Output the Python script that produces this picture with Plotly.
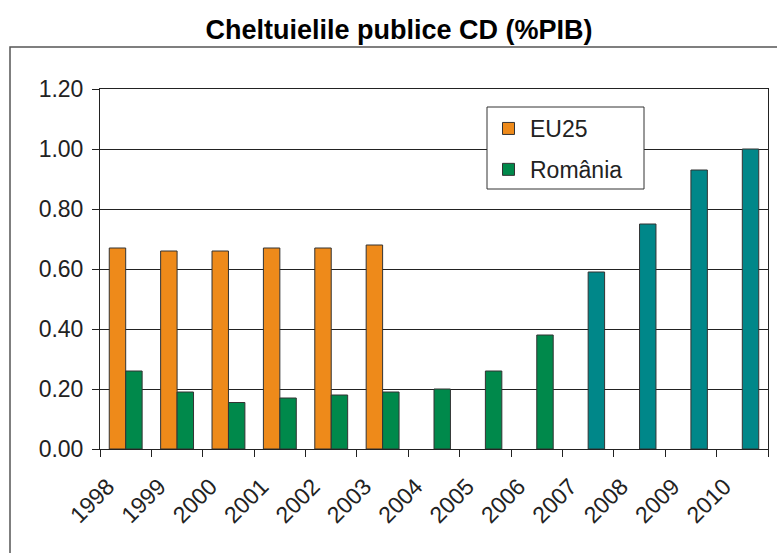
import plotly.graph_objects as go

years = ["1998", "1999", "2000", "2001", "2002", "2003", "2004",
         "2005", "2006", "2007", "2008", "2009", "2010"]
eu25 = [0.67, 0.66, 0.66, 0.67, 0.67, 0.68, None, None, None, None, None, None, None]
romania = [0.26, 0.19, 0.155, 0.17, 0.18, 0.19, 0.20, 0.26, 0.38, 0.59, 0.75, 0.93, 1.00]
romania_projected_from = "2007"

ORANGE = "#EE8A1A"
GREEN = "#00894B"
TEAL = "#008789"
FONT = "Liberation Sans, Arial, sans-serif"

ro_colors = [TEAL if int(y) >= int(romania_projected_from) else GREEN for y in years]

fig = go.Figure()
fig.add_trace(go.Bar(
    x=years, y=eu25, name="EU25", legendgroup="a",
    marker=dict(color=ORANGE, line=dict(color="#333333", width=1)),
))
fig.add_trace(go.Bar(
    x=years, y=romania, name="România", legendgroup="b",
    marker=dict(color=ro_colors, line=dict(color="#333333", width=1)),
))

W, H = 777, 553
L, R, T, B = 100, 9, 89, 104
pw, ph = W - L - R, H - T - B

def px_x(p):
    return (p - L) / pw

def px_y(p):
    return (H - B - p) / ph

fig.update_layout(
    width=W, height=H,
    margin=dict(l=L, r=R, t=T, b=B, autoexpand=False),
    paper_bgcolor="white", plot_bgcolor="white",
    barmode="group", bargap=0.36, bargroupgap=0,
    font=dict(family=FONT, size=23, color="#222222"),
    title=dict(text="<b>Cheltuielile publice CD (%PIB)</b>",
               font=dict(family=FONT, size=27, color="black"),
               x=399 / W, xref="container", xanchor="center",
               y=1 - 30 / H, yref="container", yanchor="middle"),
    showlegend=True,
    legend=dict(x=px_x(487), y=px_y(107), xanchor="left", yanchor="top",
                bgcolor="rgba(0,0,0,0)", borderwidth=0,
                font=dict(family=FONT, size=23, color="#222222"),
                itemwidth=33, tracegroupgap=8, traceorder="grouped"),
    xaxis=dict(type="category", showline=True, linecolor="#222222", linewidth=1,
               mirror=True, ticks="outside", ticklen=7, tickcolor="#222222",
               tickson="boundaries", tickangle=-45, showgrid=False,
               ticklabelstandoff=14, ticklabelshift=-18,
               tickfont=dict(family=FONT, size=23, color="#222222")),
    yaxis=dict(range=[0, 1.2], dtick=0.2, tickformat=".2f", showline=True,
               linecolor="#222222", linewidth=1, mirror=True, ticks="outside",
               ticklen=7, tickcolor="#222222", showgrid=True, gridcolor="#222222",
               gridwidth=1, zeroline=False, ticklabelstandoff=4,
               tickfont=dict(family=FONT, size=23, color="#222222")),
    shapes=[
        dict(type="rect", xref="paper", yref="paper",
             x0=px_x(10), x1=px_x(800), y0=px_y(600), y1=px_y(47),
             line=dict(color="#555555", width=1.5), fillcolor="rgba(0,0,0,0)",
             layer="below"),
        dict(type="rect", xref="paper", yref="paper",
             x0=px_x(487), x1=px_x(644), y0=px_y(189), y1=px_y(107),
             line=dict(color="#333333", width=1), fillcolor="white",
             layer="above"),
    ],
)

fig.write_html("out.html", config={"displayModeBar": False},
               post_script="document.body.style.margin='0px';document.body.style.overflow='hidden';")
